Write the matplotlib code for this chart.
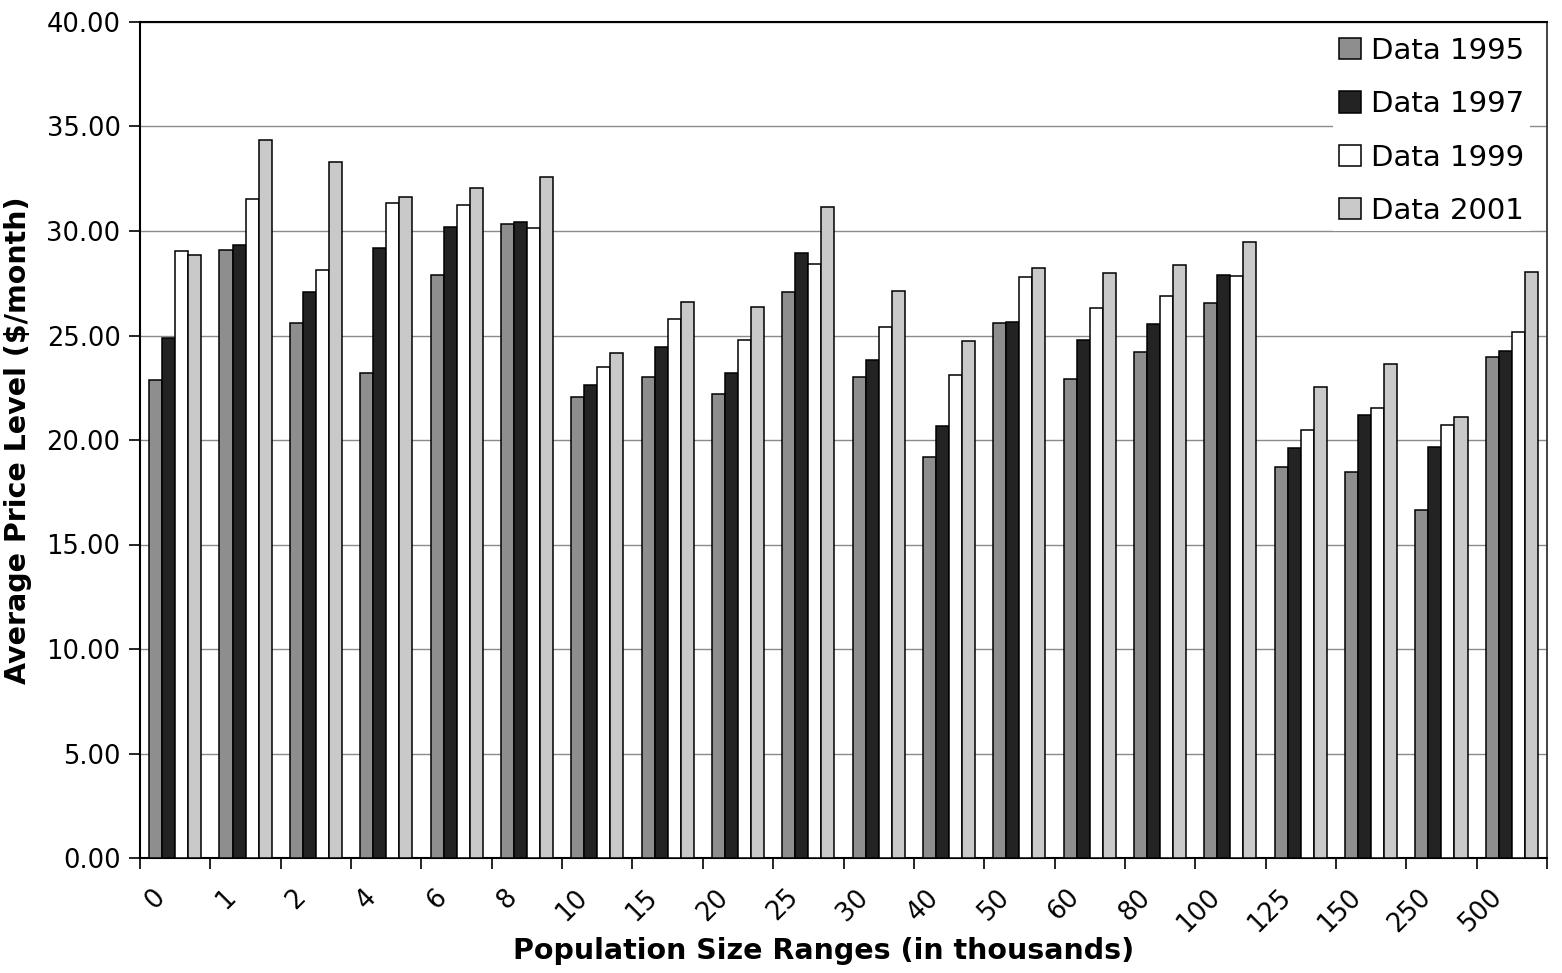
import matplotlib
matplotlib.use("Agg")
import matplotlib.pyplot as plt
import numpy as np
from matplotlib.transforms import ScaledTranslation

plt.rcParams['font.family'] = ['DejaVu Sans']

categories = ["0", "1", "2", "4", "6", "8", "10", "15", "20", "25",
              "30", "40", "50", "60", "80", "100", "125", "150", "250", "500"]
data_1995 = [22.85, 29.10, 25.60, 23.20, 27.90, 30.35, 22.05, 23.00, 22.20, 27.10,
             23.00, 19.20, 25.60, 22.90, 24.20, 26.55, 18.70, 18.45, 16.65, 23.95]
data_1997 = [24.90, 29.35, 27.10, 29.20, 30.20, 30.45, 22.65, 24.45, 23.20, 28.95,
             23.85, 20.65, 25.65, 24.80, 25.55, 27.90, 19.60, 21.20, 19.65, 24.25]
data_1999 = [29.05, 31.55, 28.15, 31.35, 31.25, 30.15, 23.50, 25.80, 24.80, 28.40,
             25.40, 23.10, 27.80, 26.30, 26.90, 27.85, 20.50, 21.55, 20.70, 25.15]
data_2001 = [28.85, 34.35, 33.30, 31.65, 32.05, 32.60, 24.15, 26.60, 26.35, 31.15,
             27.15, 24.75, 28.25, 28.00, 28.35, 29.45, 22.55, 23.65, 21.10, 28.05]
series_labels = ["Data 1995", "Data 1997", "Data 1999", "Data 2001"]
series_values = [data_1995, data_1997, data_1999, data_2001]
colors = ["#8e8e8e", "#232323", "#ffffff", "#c9c9c9"]

fig = plt.figure(figsize=(15.62, 9.73), dpi=100)
ax = fig.add_axes([140/1562, 1-858/973, (1547-140)/1562, (858-22)/973])

n = len(categories)
x = np.arange(n)
bw = 0.185
for i, (vals, lab, col) in enumerate(zip(series_values, series_labels, colors)):
    ax.bar(x + (i - 1.5) * bw, vals, width=bw, color=col, edgecolor="black",
           linewidth=1.1, label=lab, zorder=3)

ax.set_xlim(-0.5, n - 0.5)
ax.set_ylim(0, 40)
ax.set_yticks(np.arange(0, 40.01, 5))
ax.set_yticklabels([f"{v:.2f}" for v in np.arange(0, 40.01, 5)], fontsize=18.5)
ax.yaxis.grid(True, color="#8a8a8a", linewidth=1.0, zorder=0)
ax.set_axisbelow(True)

# boundaries as major ticks, labels at centers as minor ticks
ax.set_xticks(np.arange(-0.5, n, 1.0))
ax.set_xticklabels([])
ax.set_xticks(x, minor=True)
ax.set_xticklabels(categories, minor=True, rotation=45, ha="right", va="center",
                   rotation_mode="anchor", fontsize=18.5)
ax.tick_params(axis="x", which="major", length=8, width=1.2, direction="out")
ax.tick_params(axis="x", which="minor", length=0, pad=24)
ax.tick_params(axis="y", length=8, width=1.2, direction="out", pad=6)
off = ScaledTranslation(-14/100, -2/100, fig.dpi_scale_trans)
for lbl in ax.get_xticklabels(minor=True):
    lbl.set_transform(lbl.get_transform() + off)

for s in ["left", "bottom", "top"]:
    ax.spines[s].set_color("black")
    ax.spines[s].set_linewidth(1.5)
ax.spines["right"].set_color("#333333")
ax.spines["right"].set_linewidth(1.3)

ax.set_xlabel("Population Size Ranges (in thousands)", fontsize=20.5, fontweight="bold")
ax.xaxis.set_label_coords((824-140)/1407, (858-937)/836)
ax.set_ylabel("Average Price Level ($/month)", fontsize=20.5, fontweight="bold")
ax.yaxis.set_label_coords((32-140)/1407, 0.5)

leg = ax.legend(loc="upper right", bbox_to_anchor=(1530/1562, 1-31/973),
                bbox_transform=fig.transFigure, fontsize=21, frameon=True,
                fancybox=False, edgecolor="none", facecolor="white", framealpha=1.0,
                handlelength=0.75, handleheight=0.75, handletextpad=0.34,
                labelspacing=0.87, borderpad=0.2, borderaxespad=0.0)
leg.set_zorder(5)

fig.savefig("out.png", dpi=100, facecolor="white")
